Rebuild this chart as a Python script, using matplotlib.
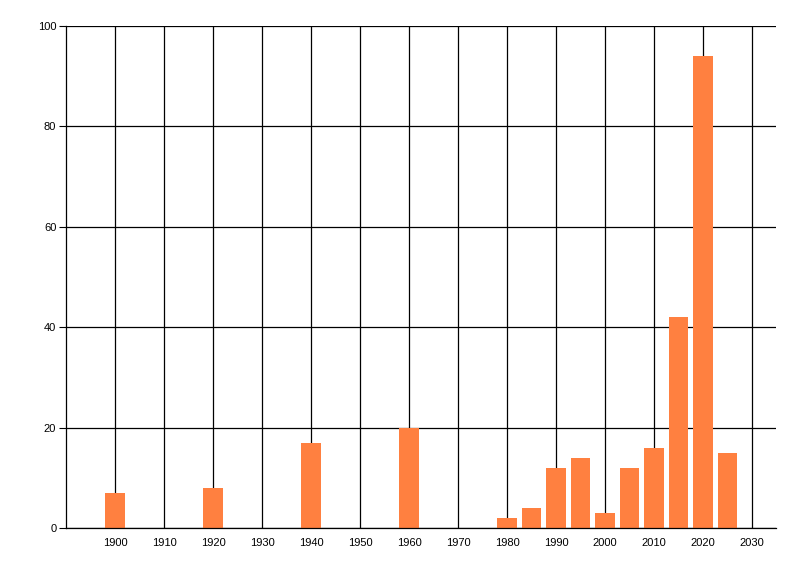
import matplotlib
matplotlib.use('Agg')
import matplotlib.pyplot as plt

years = [1900, 1920, 1940, 1960, 1980, 1985, 1990, 1995, 2000, 2005, 2010, 2015, 2020, 2025]
counts = [7, 8, 17, 20, 2, 4, 12, 14, 3, 12, 16, 42, 94, 15]
x_ticks = list(range(1900, 2031, 10))
y_ticks = [0, 20, 40, 60, 80, 100]

plt.rcParams['font.family'] = ['Liberation Sans', 'DejaVu Sans']

fig = plt.figure(figsize=(8, 5.76), dpi=100)
ax = fig.add_axes([66 / 800, 1 - 528 / 576, 710 / 800, 502 / 576])

ax.set_axisbelow(True)
ax.bar(years, counts, width=4, color='#FF8040', zorder=2)

ax.set_xlim(1890, 2034.9)
ax.set_ylim(0, 100)
ax.set_xticks(x_ticks)
ax.set_yticks(y_ticks)
ax.tick_params(axis='x', length=0, labelsize=8, pad=7)
ax.tick_params(axis='y', length=5, width=0.8, labelsize=8, pad=2)
ax.grid(True, color='black', linewidth=0.9, zorder=0)

for side in ['top', 'right']:
    ax.spines[side].set_visible(False)
for side in ['left', 'bottom']:
    ax.spines[side].set_linewidth(0.9)

fig.savefig('out.png', dpi=100)
